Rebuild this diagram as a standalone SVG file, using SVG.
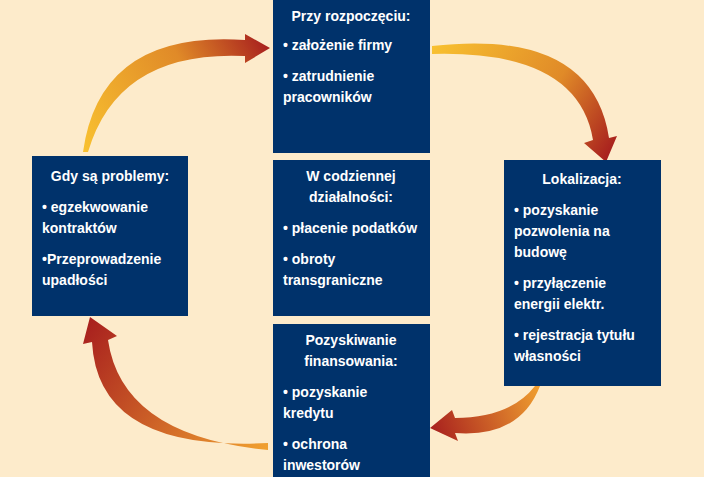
<svg xmlns="http://www.w3.org/2000/svg" width="704" height="477" viewBox="0 0 704 477">
<defs>
<style>
.box{fill:#00326B}
text{font-family:"Liberation Sans",Arial,sans-serif;font-weight:bold;font-size:14px;fill:#fff}
.c{text-anchor:middle}
</style>
<linearGradient id="g1" gradientUnits="userSpaceOnUse" x1="85" y1="150" x2="270" y2="48"><stop offset="0" stop-color="#F8C030"/><stop offset="0.6" stop-color="#E08A28"/><stop offset="1" stop-color="#A8201E"/></linearGradient>
<linearGradient id="g2" gradientUnits="userSpaceOnUse" x1="432" y1="50" x2="606" y2="160"><stop offset="0" stop-color="#F8C030"/><stop offset="0.6" stop-color="#E08A28"/><stop offset="1" stop-color="#A8201E"/></linearGradient>
<linearGradient id="g3" gradientUnits="userSpaceOnUse" x1="540" y1="386" x2="430" y2="428"><stop offset="0" stop-color="#F0A030"/><stop offset="1" stop-color="#A8201E"/></linearGradient>
<linearGradient id="g4" gradientUnits="userSpaceOnUse" x1="268" y1="446" x2="90" y2="318"><stop offset="0" stop-color="#F0A030"/><stop offset="1" stop-color="#A8201E"/></linearGradient>
</defs>
<rect width="704" height="477" fill="#FDEBCB"/>
<g id="connectors">
<path fill="url(#g1)" d="M83,152 Q100,30 245,40 L245,34 L270,48 L245,63 L245,56 Q118,50 88,152 Z"/>
<path fill="url(#g2)" d="M432,46 Q592,28 609,138 L617,136 L606,162 L584,143 L593,140 Q578,50 432,54 Z"/>
<path fill="url(#g3)" d="M540,386 Q520,438 455,433 L458,441 L430,428 L452,410 L455,418 Q510,418 535,386 Z"/>
<path fill="url(#g4)" d="M268,443 Q98,452 92,342 L83,344 L90,317 L117,336 L108,340 Q122,436 268,450 Z"/>
</g>
<g id="start"><rect class="box" x="273" y="0" width="157" height="153"/>
<text x="351" y="21" class="c">Przy rozpoczęciu:</text>
<text x="283" y="50">• założenie firmy</text>
<text x="283" y="81">• zatrudnienie</text><text x="283" y="102">pracowników</text></g>
<g id="daily"><rect class="box" x="273" y="160" width="157" height="156"/>
<text x="351" y="181" class="c">W codziennej</text><text x="351" y="202" class="c">działalności:</text>
<text x="283" y="233">• płacenie podatków</text>
<text x="283" y="264">• obroty</text><text x="283" y="285">transgraniczne</text></g>
<g id="finance"><rect class="box" x="273" y="324" width="157" height="153"/>
<text x="351" y="345" class="c">Pozyskiwanie</text><text x="351" y="366" class="c">finansowania:</text>
<text x="283" y="397">• pozyskanie</text><text x="283" y="418">kredytu</text>
<text x="283" y="449">• ochrona</text><text x="283" y="470">inwestorów</text></g>
<g id="problems"><rect class="box" x="32" y="156" width="156" height="160"/>
<text x="110" y="181" class="c">Gdy są  problemy:</text>
<text x="42" y="212">• egzekwowanie</text><text x="42" y="233">kontraktów</text>
<text x="42" y="264">•Przeprowadzenie</text><text x="42" y="285">upadłości</text></g>
<g id="location"><rect class="box" x="504" y="160" width="157" height="226"/>
<text x="582" y="184" class="c">Lokalizacja:</text>
<text x="514" y="215">• pozyskanie</text><text x="514" y="236">pozwolenia na</text><text x="514" y="257">budowę</text>
<text x="514" y="288">• przyłączenie</text><text x="514" y="309">energii elektr.</text>
<text x="514" y="340">• rejestracja tytułu</text><text x="514" y="361">własności</text></g>
</svg>
